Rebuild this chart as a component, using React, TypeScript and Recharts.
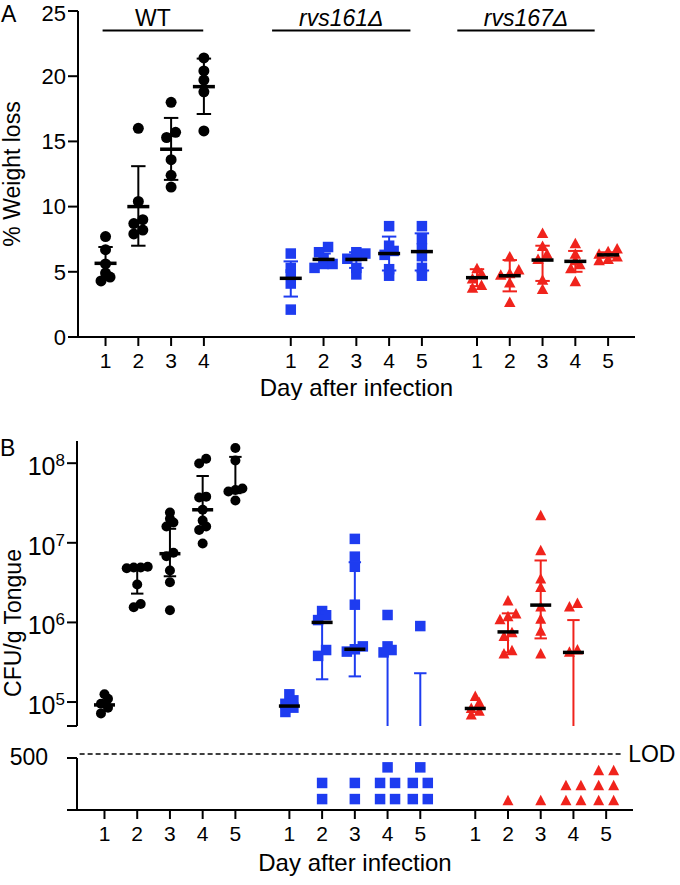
import React from "react"
import { ScatterChart, Scatter, XAxis, YAxis, ReferenceLine, Label } from "recharts"

// ---- data ----
const wtDaysA = [1, 2, 3, 4]
const wtDaysB = [1, 2, 3, 4, 5]
const mutantDays = [1, 2, 3, 4, 5]

// A: % weight loss, one list per day
const wtWeight = [
  [7.7, 6.7, 5.6, 4.9, 4.6, 4.3],
  [16.0, 10.4, 9.0, 8.7, 8.2, 7.9],
  [18.0, 15.7, 15.3, 13.6, 12.4, 11.5],
  [21.4, 20.4, 19.7, 18.8, 15.8],
]
const wtWeightMean = [5.65, 10.0, 14.4, 19.2]
const wtWeightLow = [4.4, 7.0, 12.05, 17.1]
const wtWeightHigh = [6.9, 13.1, 16.8, 21.35]

const rvs161Weight = [
  [6.4, 5.3, 4.8, 4.1, 2.1],
  [6.9, 6.5, 6.0, 5.6, 5.6, 5.3],
  [6.5, 6.4, 6.2, 6.0, 5.3, 4.8],
  [8.5, 7.0, 6.6, 6.3, 5.2, 4.7],
  [8.5, 7.5, 6.8, 6.2, 5.3, 4.7],
]
const rvs161WeightMean = [4.5, 5.95, 5.95, 6.4, 6.55]
const rvs161WeightLow = [3.1, 5.5, 5.3, 5.1, 5.1]
const rvs161WeightHigh = [5.8, 6.4, 6.5, 7.7, 7.95]

const rvs167Weight = [
  [5.3, 4.9, 4.5, 4.0, 3.8],
  [6.2, 5.2, 4.9, 4.8, 4.2, 2.7],
  [8.0, 7.0, 6.4, 6.0, 4.4, 3.7],
  [7.2, 6.4, 5.9, 5.6, 5.3, 4.3],
  [6.8, 6.6, 6.4, 6.2, 6.0, 5.9],
]
const rvs167WeightMean = [4.55, 4.7, 5.9, 5.8, 6.3]
const rvs167WeightLow = [3.9, 3.5, 4.3, 5.0, 6.1]
const rvs167WeightHigh = [5.2, 5.9, 7.0, 6.6, 6.5]

// B: CFU/g tongue (above LOD), one list per day
const wtCfu = [
  [1.25e5, 1.1e5, 9.5e4, 8.5e4, 7.2e4],
  [5.0e6, 4.9e6, 4.9e6, 4.8e6, 3.0e6, 1.7e6, 1.55e6],
  [2.4e7, 2.0e7, 1.8e7, 1.6e7, 7.5e6, 6.8e6, 4.5e6, 3.2e6, 1.42e6],
  [1.14e8, 9.9e7, 3.8e7, 3.7e7, 2.6e7, 1.9e7, 1.6e7, 1.45e7, 9.8e6],
  [1.55e8, 1.08e8, 4.8e7, 4.6e7, 4.4e7, 3.4e7],
]
const wtCfuMid = [9.2e4, 4.8e6, 7.3e6, 2.6e7, 4.6e7]
const wtCfuLow = [null, 2.3e6, 3.8e6, 1.5e7, 4.2e7]
const wtCfuHigh = [null, 4.8e6, 1.5e7, 6.9e7, 1.2e8]

const rvs161Cfu = [
  [1.25e5, 1.05e5, 9.5e4, 8.5e4, 7.5e4],
  [1.39e6, 1.23e6, 1.07e6, 4.5e5, 3.8e5],
  [1.12e7, 6.7e6, 5.0e6, 1.67e6, 5.0e5, 4.6e5, 4.3e5],
  [1.24e6, 5.0e5, 4.5e5, 4.2e5],
  [9.0e5],
]
const rvs161CfuMid = [8.9e4, 1.0e6, 4.6e5, null, null]
// 0 = the bar runs off the bottom of the axis
const rvs161CfuLow = [null, 1.93e5, 2.1e5, 0, 0]
const rvs161CfuHigh = [null, 1.2e6, 5.7e6, 4.4e5, 2.3e5]

const rvs167Cfu = [
  [1.2e5, 1.0e5, 8.5e4, 7.8e4, 7.0e4],
  [1.9e6, 1.3e6, 1.2e6, 1.1e6, 7.6e5, 6.8e5, 4.5e5, 4.1e5],
  [2.24e7, 8.1e6, 3.6e6, 2.8e6, 1.6e6, 1.12e6, 7.9e5, 4.1e5],
  [1.76e6, 1.6e6, 4.6e5, 4.3e5],
  [],
]
const rvs167CfuMid = [8.3e4, 7.6e5, 1.65e6, 4.2e5, null]
const rvs167CfuLow = [null, 4.2e5, 6.3e5, 0, null]
const rvs167CfuHigh = [null, 1.3e6, 6.0e6, 1.07e6, null]

// B: samples below the limit of detection (stacked rows)
const rvs161Below = [[], [260, 105], [260, 105], [410, 260, 260, 105, 105], [410, 260, 260, 105, 105]]
const rvs167Below = [[], [95], [95], [240, 240, 95, 95], [385, 385, 240, 240, 95, 95]]
const lodValue = 538

const groupNames = ["WT", "rvs161Δ", "rvs167Δ"]
const groupSpans = [[0.91, 3.98], [6.08, 10.3], [11.73, 15.92]]
const groupLabelLevel = 23.5

// ---- layout ----
const BLUE = "#1e3cf0"
const RED = "#f0231c"
const shift = { wt: 0, rvs161: 5.65, rvs167: 11.33 }
const xDomain: [number, number] = [0.16, 17.15]
const cfuDomain: [number, number] = [5e4, 1.9e8]
const UNIT_PX = 32.75
const pxA = (v: number) => v * (326 / 25)
const pxB = (v: number) => Math.log10(v) * 79.6
const pxLow = (v: number) => v * (52 / 500)

const ticksA = [...wtDaysA.map((d) => d + shift.wt), ...mutantDays.map((d) => d + shift.rvs161), ...mutantDays.map((d) => d + shift.rvs167)]
const ticksB = [...wtDaysB.map((d) => d + shift.wt), ...mutantDays.map((d) => d + shift.rvs161), ...mutantDays.map((d) => d + shift.rvs167)]
const dayLabel = (v: number) => String(Math.round(v >= shift.rvs167 ? v - shift.rvs167 : v >= shift.rvs161 ? v - shift.rvs161 : v))

// rows of similar values are spread side by side, like a dot plot
function swarm(vals: number[], toPx: (v: number) => number, bin: number, gap: number) {
  const order = vals.map((_, i) => i).sort((a, b) => toPx(vals[a]) - toPx(vals[b]))
  const off = vals.map(() => 0)
  let row: number[] = []
  let start = 0
  const flush = () => row.forEach((i, j) => (off[i] = ((j - (row.length - 1) / 2) * gap) / UNIT_PX))
  for (const i of order) {
    const p = toPx(vals[i])
    if (row.length && p - start >= bin) {
      flush()
      row = []
    }
    if (!row.length) start = p
    row.push(i)
  }
  if (row.length) flush()
  return off
}

function columnPoints(cols: number[][], days: number[], s: number, toPx: (v: number) => number, bin: number, gap: number) {
  return cols.flatMap((vals, i) => {
    const off = swarm(vals, toPx, bin, gap)
    return vals.map((v, j) => ({ x: days[i] + s + off[j], y: v }))
  })
}

function meanPoints(days: number[], s: number, mids: (number | null)[]) {
  return days.map((d, i) => ({ x: d + s, y: mids[i] })).filter((p) => p.y != null)
}

function errorLines(key: string, days: number[], s: number, low: (number | null)[], high: (number | null)[], color: string, capHalf: number, floor: number) {
  const out: React.ReactNode[] = []
  days.forEach((d, i) => {
    const lo = low[i]
    const hi = high[i]
    if (lo == null || hi == null) return
    const x = d + s
    const loY = lo === 0 ? floor : lo
    out.push(<ReferenceLine key={`${key}w${i}`} segment={[{ x, y: loY }, { x, y: hi }]} stroke={color} strokeWidth={2} ifOverflow="hidden" />)
    out.push(<ReferenceLine key={`${key}h${i}`} segment={[{ x: x - capHalf, y: hi }, { x: x + capHalf, y: hi }]} stroke={color} strokeWidth={2} ifOverflow="hidden" />)
    if (lo !== 0) out.push(<ReferenceLine key={`${key}l${i}`} segment={[{ x: x - capHalf, y: lo }, { x: x + capHalf, y: lo }]} stroke={color} strokeWidth={2} ifOverflow="hidden" />)
  })
  return out
}

const circle = (d: number) => (p: any) => <circle cx={p.cx} cy={p.cy} r={d / 2} fill="#000" />
const square = (d: number, fill: string) => (p: any) => <rect x={p.cx - d / 2} y={p.cy - d / 2} width={d} height={d} fill={fill} />
const triangle = (w: number, h: number, fill: string) => (p: any) => (
  <polygon points={`${p.cx},${p.cy - h / 2} ${p.cx - w / 2},${p.cy + h / 2} ${p.cx + w / 2},${p.cy + h / 2}`} fill={fill} />
)
const meanBar = (w: number) => (p: any) => <rect x={p.cx - w / 2} y={p.cy - 1.75} width={w} height={3.5} fill="#000" />

const axisStyle = { stroke: "#000", strokeWidth: 2 }
const tickText = { fill: "#000", fontSize: 21 }

const PowerTick = (props: any) => {
  const { x, y, payload } = props
  const e = Math.round(Math.log10(payload.value))
  if (Math.abs(payload.value / Math.pow(10, e) - 1) > 0.01) return <g />
  return (
    <text x={x} y={y + 12} textAnchor="end" fill="#000" fontSize={25}>
      10
      <tspan dy={-9} fontSize={17}>
        {e}
      </tspan>
    </text>
  )
}

const LowTick = (props: any) => {
  const { x, y, payload } = props
  if (payload.value !== 500) return <g />
  return (
    <text x={x - 17} y={y + 7} textAnchor="end" fill="#000" fontSize={23}>
      500
    </text>
  )
}

export default function App() {
  const wtA = columnPoints(wtWeight, wtDaysA, shift.wt, pxA, 6, 9)
  const r161A = columnPoints(rvs161Weight, mutantDays, shift.rvs161, pxA, 6, 9)
  const r167A = columnPoints(rvs167Weight, mutantDays, shift.rvs167, pxA, 6, 9)
  const meansA = [
    ...meanPoints(wtDaysA, shift.wt, wtWeightMean),
    ...meanPoints(mutantDays, shift.rvs161, rvs161WeightMean),
    ...meanPoints(mutantDays, shift.rvs167, rvs167WeightMean),
  ]

  const wtB = columnPoints(wtCfu, wtDaysB, shift.wt, pxB, 6, 7)
  const r161B = columnPoints(rvs161Cfu, mutantDays, shift.rvs161, pxB, 6, 8)
  const r167B = columnPoints(rvs167Cfu, mutantDays, shift.rvs167, pxB, 6, 8)
  const meansB = [
    ...meanPoints(wtDaysB, shift.wt, wtCfuMid),
    ...meanPoints(mutantDays, shift.rvs161, rvs161CfuMid),
    ...meanPoints(mutantDays, shift.rvs167, rvs167CfuMid),
  ]

  const r161Low = columnPoints(rvs161Below, mutantDays, shift.rvs161, pxLow, 8, 15)
  const r167Low = columnPoints(rvs167Below, mutantDays, shift.rvs167, pxLow, 8, 15)

  return (
    <div style={{ position: "absolute", left: 0, top: 0, width: 680, height: 885, background: "#fff", fontFamily: '"Liberation Sans", Arial, sans-serif' }}>
      <div style={{ position: "absolute", left: 0, top: 0 }}>
        <ScatterChart width={680} height={400} margin={{ top: 11, right: 45, bottom: 0, left: 0 }}>
          <XAxis type="number" dataKey="x" domain={xDomain} ticks={ticksA} tickFormatter={dayLabel} height={63} axisLine={axisStyle} tickLine={axisStyle} tickSize={9} tickMargin={7} tick={tickText} interval={0} allowDataOverflow>
            <Label value="Day after infection" position="insideBottom" offset={4} fontSize={24} fill="#000" />
          </XAxis>
          <YAxis type="number" dataKey="y" domain={[0, 25]} ticks={[0, 5, 10, 15, 20, 25]} width={78} axisLine={axisStyle} tickLine={axisStyle} tickSize={10} tickMargin={2} tick={{ fill: "#000", fontSize: 22 }} allowDataOverflow>
            <Label value="% Weight loss" angle={-90} position="insideLeft" offset={12} fontSize={23} fill="#000" style={{ textAnchor: "middle" }} />
          </YAxis>
          <Scatter data={wtA} shape={circle(11)} isAnimationActive={false} />
          <Scatter data={r161A} shape={square(10.5, BLUE)} isAnimationActive={false} />
          <Scatter data={r167A} shape={triangle(11.5, 10.5, RED)} isAnimationActive={false} />
          {errorLines("wa", wtDaysA, shift.wt, wtWeightLow, wtWeightHigh, "#000", 0.22, 0)}
          {errorLines("ba", mutantDays, shift.rvs161, rvs161WeightLow, rvs161WeightHigh, BLUE, 0.22, 0)}
          {errorLines("ra", mutantDays, shift.rvs167, rvs167WeightLow, rvs167WeightHigh, RED, 0.22, 0)}
          <Scatter data={meansA} shape={meanBar(22)} isAnimationActive={false} />
          {groupNames.map((name, i) => (
            <ReferenceLine
              key={name}
              segment={[{ x: groupSpans[i][0], y: groupLabelLevel }, { x: groupSpans[i][1], y: groupLabelLevel }]}
              stroke="#000"
              strokeWidth={2}
              label={<Label value={name} position="top" offset={5} fontSize={23} fill="#000" style={{ fontStyle: i === 0 ? "normal" : "italic" }} />}
            />
          ))}
        </ScatterChart>
      </div>

      <div style={{ position: "absolute", left: 0, top: 400 }}>
        <ScatterChart width={680} height={330} margin={{ top: 41, right: 47, bottom: 4, left: 0 }}>
          <XAxis type="number" dataKey="x" domain={xDomain} hide allowDataOverflow />
          <YAxis type="number" dataKey="y" scale="log" domain={cfuDomain} ticks={[5e4, 1e5, 1e6, 1e7, 1e8]} width={77} axisLine={axisStyle} tickLine={axisStyle} tickSize={10} tickMargin={2} tick={<PowerTick />} interval={0} allowDataOverflow />
          <Scatter data={wtB} shape={circle(10)} isAnimationActive={false} />
          <Scatter data={r161B} shape={square(10.5, BLUE)} isAnimationActive={false} />
          <Scatter data={r167B} shape={triangle(11, 10.5, RED)} isAnimationActive={false} />
          {errorLines("wb", wtDaysB, shift.wt, wtCfuLow, wtCfuHigh, "#000", 0.19, cfuDomain[0])}
          {errorLines("bb", mutantDays, shift.rvs161, rvs161CfuLow, rvs161CfuHigh, BLUE, 0.19, cfuDomain[0])}
          {errorLines("rb", mutantDays, shift.rvs167, rvs167CfuLow, rvs167CfuHigh, RED, 0.19, cfuDomain[0])}
          <Scatter data={meansB} shape={meanBar(21)} isAnimationActive={false} />
        </ScatterChart>
      </div>

      <div style={{ position: "absolute", left: 0, top: 740 }}>
        <ScatterChart width={680} height={145} margin={{ top: 18, right: 47, bottom: 5, left: 0 }}>
          <XAxis type="number" dataKey="x" domain={xDomain} ticks={ticksB} tickFormatter={dayLabel} height={70} axisLine={axisStyle} tickLine={axisStyle} tickSize={9} tickMargin={7} tick={tickText} interval={0} allowDataOverflow>
            <Label value="Day after infection" position="insideBottom" offset={9} fontSize={24} fill="#000" />
          </XAxis>
          <YAxis type="number" dataKey="y" domain={[0, 500]} ticks={[0, 500]} width={77} axisLine={axisStyle} tickLine={axisStyle} tickSize={10} tickMargin={2} tick={<LowTick />} interval={0} allowDataOverflow />
          <Scatter data={r161Low} shape={square(10.5, BLUE)} isAnimationActive={false} />
          <Scatter data={r167Low} shape={triangle(11, 10.5, RED)} isAnimationActive={false} />
          <ReferenceLine
            segment={[{ x: xDomain[0] + 0.08, y: lodValue }, { x: 16.85, y: lodValue }]}
            stroke="#000"
            strokeWidth={1.5}
            strokeDasharray="5 3"
            ifOverflow="visible"
            label={<Label value="LOD" position="right" offset={5} fontSize={23} fill="#000" />}
          />
        </ScatterChart>
      </div>

      <svg width={680} height={885} style={{ position: "absolute", left: 0, top: 0, pointerEvents: "none" }}>
        <text x={1} y={22} fontSize={23} fill="#000">A</text>
        <text x={0} y={456} fontSize={23} fill="#000">B</text>
        <text transform="translate(13,623) rotate(-90)" textAnchor="middle" dy="0.35em" fontSize={23} fill="#000">
          CFU/g Tongue
        </text>
      </svg>
    </div>
  )
}
